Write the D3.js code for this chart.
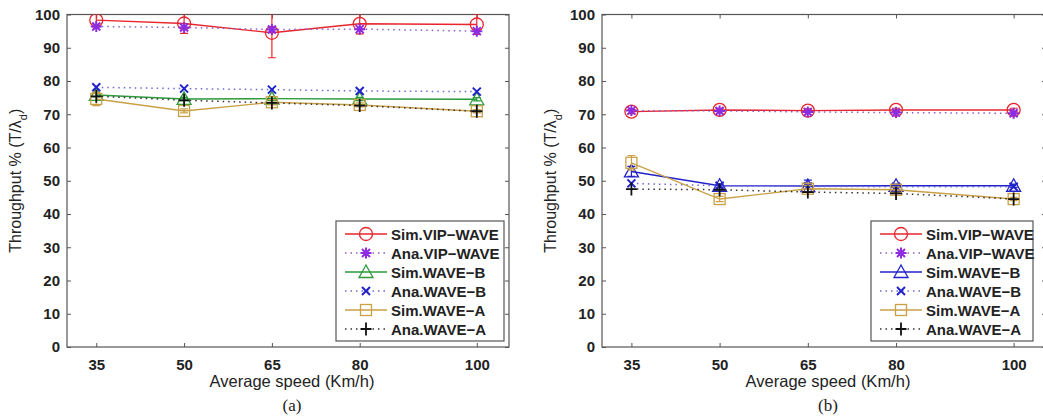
<!DOCTYPE html>
<html>
<head>
<meta charset="utf-8">
<script src="https://cdn.jsdelivr.net/npm/d3@7"></script>
<style>
  body { margin: 0; background: #fff; }
  svg { display: block; }
  .tick text { font-family: "Liberation Sans", Arial, sans-serif; font-weight: bold; font-size: 15px; fill: #222; }
</style>
</head>
<body>
<div id="chart"></div>
<script>
const speeds = [35, 50, 65, 80, 100];
const yTicks = [0, 10, 20, 30, 40, 50, 60, 70, 80, 90, 100];

// panel (a)
const simVipA = [98.3, 97.3, 94.5, 97.2, 97.0];
const simVipErrA = [2, 3, 7.5, 3, 3];
const anaVipA = [96.4, 96.1, 95.5, 95.6, 95.0];
const simBA = [75.8, 74.6, 74.7, 74.6, 74.5];
const simBErrA = [0.6, 0.5, 0.6, 0.5, 0.5];
const anaBA = [78.1, 77.7, 77.4, 77.0, 76.8];
const simAA = [74.6, 71.0, 73.6, 72.8, 70.9];
const simAErrA = [2, 0.6, 0.8, 0.6, 0.5];
const anaAA = [75.4, 74.2, 73.4, 72.6, 70.9];

// panel (b)
const simVipB = [70.8, 71.3, 71.1, 71.3, 71.3];
const simVipErrB = [0.6, 0.5, 0.5, 0.5, 0.5];
const anaVipB = [71.1, 71.0, 70.7, 70.5, 70.3];
const simBB = [52.8, 48.5, 48.4, 48.5, 48.5];
const simBErrB = [1.5, 0.5, 1.8, 0.5, 0.5];
const anaBB = [49.2, 48.5, 48.3, 48.2, 48.2];
const simAB = [55.4, 44.5, 47.6, 47.3, 44.5];
const simAErrB = [2.2, 0.8, 1, 0.8, 0.5];
const anaAB = [47.5, 47.3, 46.6, 46.2, 44.5];

const labels = ['Sim.VIP\u2212WAVE', 'Ana.VIP\u2212WAVE', 'Sim.WAVE\u2212B', 'Ana.WAVE\u2212B', 'Sim.WAVE\u2212A', 'Ana.WAVE\u2212A'];

const width = 1043, height = 417;
const svg = d3.select('#chart').append('svg')
    .attr('width', width)
    .attr('height', height);

// marker shapes drawn around (0,0)
function drawMarker(g, type, color) {
    const s = 5.5;
    if (type === 'circle') {
        g.append('circle').attr('r', 6.5).attr('fill', 'none').attr('stroke', color).attr('stroke-width', 1.3);
    } else if (type === 'triangle') {
        g.append('path').attr('d', `M0,${-7}L${7},${5.5}L${-7},${5.5}Z`).attr('fill', 'none').attr('stroke', color).attr('stroke-width', 1.3);
    } else if (type === 'square') {
        g.append('rect').attr('x', -5.5).attr('y', -5.5).attr('width', 11).attr('height', 11).attr('fill', 'none').attr('stroke', color).attr('stroke-width', 1.3);
    } else if (type === 'x') {
        g.append('path').attr('d', `M${-4},${-4}L4,4M${-4},4L4,${-4}`).attr('stroke', color).attr('stroke-width', 2);
    } else if (type === 'plus') {
        g.append('path').attr('d', `M${-s},0L${s},0M0,${-s - 1}L0,${s + 1}`).attr('stroke', color).attr('stroke-width', 1.8);
    } else if (type === 'star') {
        g.append('path').attr('d', `M${-s},0L${s},0M0,${-s}L0,${s}M-4,-4L4,4M-4,4L4,-4`).attr('stroke', color).attr('stroke-width', 2);
    }
}

function drawPanel(opt) {
    const x = d3.scaleLinear().domain([30, 105.5]).range([opt.left, opt.right]);
    const y = d3.scaleLinear().domain([0, 100]).range([347, 14.5]);
    const g = svg.append('g');

    // frame
    g.append('rect')
        .attr('x', opt.left).attr('y', y(100))
        .attr('width', opt.right - opt.left).attr('height', y(0) - y(100))
        .attr('fill', 'none').attr('stroke', '#555').attr('stroke-width', 1.2);

    const axB = g.append('g').attr('transform', 'translate(0,347)')
        .call(d3.axisBottom(x).tickValues(speeds).tickSizeInner(-4).tickSizeOuter(0).tickPadding(12));
    const axT = g.append('g').attr('transform', 'translate(0,' + y(100) + ')')
        .call(d3.axisTop(x).tickValues(speeds).tickSizeInner(-4).tickSizeOuter(0).tickFormat(''));
    const axL = g.append('g').attr('transform', 'translate(' + opt.left + ',0)')
        .call(d3.axisLeft(y).tickValues(yTicks).tickSizeInner(-4).tickSizeOuter(0).tickPadding(7));
    const axR = g.append('g').attr('transform', 'translate(' + opt.right + ',0)')
        .call(d3.axisRight(y).tickValues(yTicks).tickSizeInner(-4).tickSizeOuter(0).tickFormat(''));
    [axB, axT, axL, axR].forEach(a => {
        a.select('.domain').remove();
        a.selectAll('.tick line').attr('stroke', '#555');
    });

    const clipId = 'clip' + opt.name;
    svg.append('clipPath').attr('id', clipId).append('rect')
        .attr('x', opt.left).attr('y', y(100))
        .attr('width', opt.right - opt.left).attr('height', y(0) - y(100));

    const plot = g.append('g').attr('clip-path', 'url(#' + clipId + ')');
    const line = d3.line().x((d, i) => x(speeds[i])).y(d => y(d));

    opt.series.forEach(s => {
        plot.append('path')
            .datum(s.values)
            .attr('d', line)
            .attr('fill', 'none')
            .attr('stroke', s.lineColor || s.color)
            .attr('stroke-width', s.dotted ? 1.5 : 1.4)
            .attr('stroke-dasharray', s.dotted ? '1.5,4' : null);
        if (s.err) {
            s.values.forEach((v, i) => {
                const cx = x(speeds[i]);
                const e = s.err[i];
                plot.append('path')
                    .attr('d', `M${cx},${y(v + e)}L${cx},${y(v - e)}M${cx - 4},${y(v + e)}L${cx + 4},${y(v + e)}M${cx - 4},${y(v - e)}L${cx + 4},${y(v - e)}`)
                    .attr('stroke', s.color).attr('stroke-width', 1.2).attr('fill', 'none');
            });
        }
        s.values.forEach((v, i) => {
            const mg = plot.append('g').attr('transform', `translate(${x(speeds[i])},${y(v)})`);
            drawMarker(mg, s.marker, s.color);
        });
    });

    // axis titles
    g.append('text')
        .attr('transform', `translate(${opt.left - 46},${(y(0) + y(100)) / 2}) rotate(-90)`)
        .attr('text-anchor', 'middle')
        .attr('font-family', 'Liberation Sans, Arial, sans-serif')
        .attr('font-size', 16).attr('fill', '#222')
        .html('Throughput % (T/\u03bb<tspan baseline-shift="sub" font-size="11">d</tspan>)');
    const cx = (opt.left + opt.right) / 2 + 4;
    g.append('text')
        .attr('x', cx).attr('y', 387)
        .attr('text-anchor', 'middle')
        .attr('font-family', 'Liberation Sans, Arial, sans-serif')
        .attr('font-size', 16.5).attr('fill', '#222')
        .text('Average speed (Km/h)');
    g.append('text')
        .attr('x', cx).attr('y', 411)
        .attr('text-anchor', 'middle')
        .attr('font-family', 'Liberation Serif, Times New Roman, serif')
        .attr('font-size', 17).attr('fill', '#222')
        .text(opt.caption);

    // legend
    const lg = g.append('g').attr('transform', `translate(${opt.legX},221)`);
    lg.append('rect').attr('x', 0).attr('y', 0).attr('width', opt.legW).attr('height', 120)
        .attr('fill', '#fff').attr('stroke', '#555').attr('stroke-width', 1.2);
    opt.series.forEach((s, i) => {
        const ry = 13 + i * 19;
        lg.append('line').attr('x1', 9).attr('x2', 51).attr('y1', ry).attr('y2', ry)
            .attr('stroke', s.lineColor || s.color).attr('stroke-width', s.dotted ? 1.5 : 1.4)
            .attr('stroke-dasharray', s.dotted ? '1.5,4' : null);
        drawMarker(lg.append('g').attr('transform', `translate(30,${ry})`), s.marker, s.color);
        lg.append('text').attr('x', 55).attr('y', ry + 5.5)
            .attr('font-family', 'Liberation Sans, Arial, sans-serif')
            .attr('font-weight', 'bold').attr('font-size', 15).attr('fill', '#222')
            .text(labels[i]);
    });
}

const red = '#e8242c', purple = '#8b2be2', green = '#2a9a3a', blue = '#2222cc', gold = '#c9a046', black = '#111';

drawPanel({
    name: 'a', left: 67, right: 509, caption: '(a)', legX: 336, legW: 168,
    series: [
        { values: simVipA, err: simVipErrA, color: red, marker: 'circle' },
        { values: anaVipA, color: purple, lineColor: '#8a60c8', marker: 'star', dotted: true },
        { values: simBA, err: simBErrA, color: green, marker: 'triangle' },
        { values: anaBA, color: blue, lineColor: '#6a6ad0', marker: 'x', dotted: true },
        { values: simAA, err: simAErrA, color: gold, marker: 'square' },
        { values: anaAA, color: black, lineColor: '#333', marker: 'plus', dotted: true }
    ]
});

drawPanel({
    name: 'b', left: 602, right: 1046, caption: '(b)', legX: 871, legW: 162,
    series: [
        { values: simVipB, err: simVipErrB, color: red, marker: 'circle' },
        { values: anaVipB, color: purple, lineColor: '#8a60c8', marker: 'star', dotted: true },
        { values: simBB, err: simBErrB, color: blue, marker: 'triangle' },
        { values: anaBB, color: blue, lineColor: '#6a6ad0', marker: 'x', dotted: true },
        { values: simAB, err: simAErrB, color: gold, marker: 'square' },
        { values: anaAB, color: black, lineColor: '#333', marker: 'plus', dotted: true }
    ]
});
</script>
</body>
</html>
